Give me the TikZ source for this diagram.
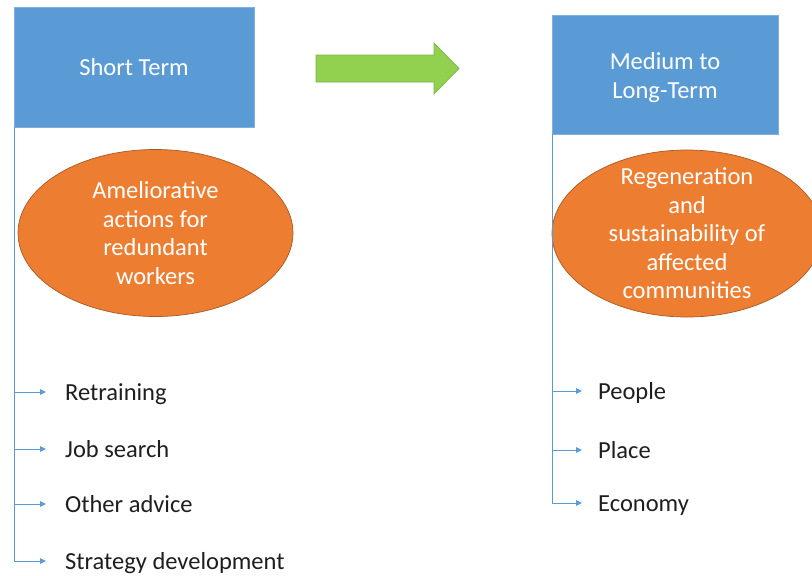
\documentclass[tikz,border=0pt]{standalone}
\usepackage{fontspec}
\setmainfont{Carlito}
\usetikzlibrary{shapes.geometric,arrows.meta}
\definecolor{boxblue}{HTML}{5B9BD5}
\definecolor{boxedge}{HTML}{7FB0E0}
\definecolor{ovalorange}{HTML}{ED7D31}
\definecolor{ovaledge}{HTML}{A65A28}
\definecolor{arrowgreen}{HTML}{92D050}
\definecolor{arrowedge}{HTML}{7DB548}
\definecolor{linkblue}{HTML}{5B9BD5}
\definecolor{itemtext}{HTML}{1E1E1E}
\begin{document}
\begin{tikzpicture}[x=1pt,y=-1pt,
  every node/.style={font=\fontsize{24.5}{28.5}\selectfont},
  phase/.style={rectangle, fill=boxblue, draw=boxedge, line width=0.8pt,
    text=white, align=center, inner sep=0pt},
  goal/.style={ellipse, fill=ovalorange, draw=ovaledge, line width=0.7pt, inner sep=0pt},
  goaltext/.style={text=white, align=center, inner sep=0pt},
  item/.style={anchor=west, inner sep=0pt, text height=16pt, text depth=0pt, text=itemtext},
  link/.style={draw=linkblue, line width=0.9pt, -{Triangle[length=6pt,width=5.5pt]}}]
\useasboundingbox (0,0) rectangle (812,576);
\clip (0,0) rectangle (812,576);

% phase headings
\node[phase, minimum width=240pt, minimum height=120pt] (st) at (134,67) {Short Term};
\node[phase, minimum width=226pt, minimum height=119pt] (mt) at (665,74.5) {};
\node[goaltext] (mtt) at ([yshift=-3pt]mt.center) {Medium to\\Long-Term};

% goals of each phase
\node[goal, minimum width=275pt, minimum height=167pt] (ga) at (155.5,233) {};
\node[goaltext] (gat) at (ga.center) {Ameliorative\\actions for\\redundant\\workers};
\node[goal, minimum width=270pt, minimum height=167pt] (gb) at (687,233.5) {};
\node[goaltext] (gbt) at (gb.center) {Regeneration\\and\\sustainability of\\affected\\communities};

% block arrow between the phases
\draw[fill=arrowgreen, draw=arrowedge, line width=0.7pt]
  (316,55) -- (434,55) -- (434,43) -- (459,68.5) -- (434,94) -- (434,82) -- (316,82) -- cycle;

% short-term actions
\node[item] (r1) at (65,392) {Retraining};
\node[item] (r2) at (65,449) {Job search};
\node[item] (r3) at (65,504) {Other advice};
\node[item] (r4) at (65,561) {Strategy development};

% medium to long-term themes
\node[item] (p1) at (598,391) {People};
\node[item] (p2) at (598,450) {Place};
\node[item] (p3) at (598,503) {Economy};

\foreach \t in {r1,r2,r3,r4}
  \draw[link] ([xshift=1pt]st.south west) |- ([xshift=-19pt]\t.west);
\foreach \t in {p1,p2,p3}
  \draw[link] ([xshift=1pt]mt.south west) |- ([xshift=-16pt]\t.west);
\end{tikzpicture}
\end{document}
